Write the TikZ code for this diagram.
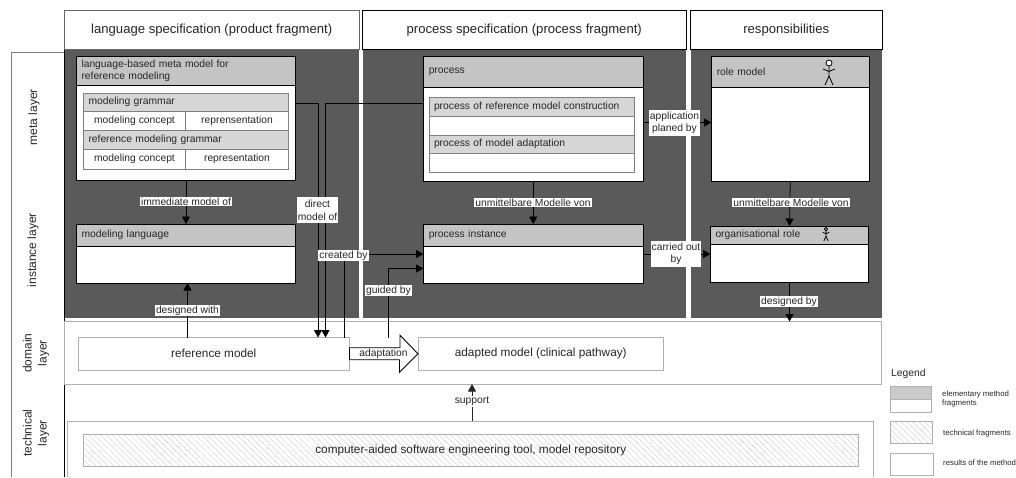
\documentclass[tikz,border=0pt]{standalone}
\usepackage{fontspec}
\setmainfont{Liberation Sans}
\usetikzlibrary{arrows.meta,calc,patterns.meta}
\definecolor{panel}{HTML}{5A5A5A}
\definecolor{headgray}{HTML}{C4C4C4}
\definecolor{subgray}{HTML}{D6D6D6}
\definecolor{rimgray}{HTML}{B0B0B0}
\definecolor{ink}{HTML}{262626}
\newcommand{\bx}[7][]{%
  \pgfmathsetmacro\bcx{(#3+#5)/2}\pgfmathsetmacro\bcy{(#4+#6)/2}%
  \pgfmathsetmacro\bw{abs(#5-#3)}\pgfmathsetmacro\bh{abs(#6-#4)}%
  \node[#1,minimum width=\bw pt,minimum height=\bh pt,inner sep=0pt,outer sep=0pt] (#2) at (\bcx,\bcy) {#7};}
\newcommand{\actor}[3]{% x, top y, scale
  \begin{scope}[shift={(#1,#2)},scale=#3,line width=.8pt,black]
    \draw[fill=white] (0,3) circle (3);
    \draw (0,6) -- (0,16) (-6,9) -- (0,11.5) -- (6,9) (-4,25) -- (0,16) -- (4,25);
  \end{scope}}
\tikzset{
  x=1pt,y=-1pt,
  font=\fontsize{10.3}{12}\selectfont,text=ink,
  conn/.style={draw=black,line width=.8pt,-{Triangle[width=8pt,length=7.5pt]}},
  panelbox/.style={fill=panel},
  header/.style={draw=black,line width=.8pt,fill=white,font=\fontsize{13.1}{15}\selectfont},
  headbar/.style={draw=black,line width=.9pt,fill=headgray,align=left,text width=#1,font=\fontsize{10.3}{12}\selectfont},
  headbar/.default=200pt,
  bodybox/.style={draw=black,line width=.9pt,fill=white},
  subhead/.style={draw=gray,line width=.7pt,fill=subgray,align=left,text width=#1},
  subhead/.default=195pt,
  cell/.style={draw=gray,line width=.7pt,fill=white},
  result/.style={draw=rimgray,line width=1pt,fill=white,font=\fontsize{11.8}{14}\selectfont},
  hatched/.style={draw=rimgray,line width=1pt,pattern={Lines[angle=-45,distance=4.2pt,line width=.35pt]},pattern color=gray!42},
  lbl/.style={fill=white,inner sep=1pt,outer sep=0pt,align=center,font=\fontsize{10.3}{12}\selectfont},
  layer/.style={rotate=90,align=center,font=\fontsize{12}{15}\selectfont},
  legtext/.style={anchor=west,align=left,inner sep=0pt,font=\fontsize{7.8}{9}\selectfont}
}
\begin{document}
\begin{tikzpicture}
\useasboundingbox (0,0) rectangle (1016,477);
% left column
\draw[draw=gray,line width=.8pt] (11,477) -- (11,52) -- (64,52);
\draw[black,line width=.8pt] (64,50) -- (64,477);
\node[layer] (lmeta) at (34,117) {meta layer};
\node[layer] (linst) at (33,250) {instance layer};
\node[layer] (ldom) at (36,353) {domain\\layer};
\node[layer] (ltech) at (36,433) {technical\\layer};
% panels
\bx[panelbox]{p1}{64.5}{50}{359}{318}{}
\bx[panelbox]{p2}{362.5}{50}{686}{318}{}
\bx[panelbox]{p3}{690.5}{50}{882}{318}{}
\bx[header,draw=gray!80!black]{h1}{64.5}{10.5}{359}{49.5}{language specification (product fragment)}
\bx[header]{h2}{362.5}{10.5}{686}{49.5}{process specification (process fragment)}
\bx[header]{h3}{690.5}{10.5}{882}{49.5}{responsibilities}
% language column
\bx[bodybox]{mmbody}{76.5}{85.5}{295.5}{180}{}
\bx[headbar=209pt]{mmhead}{76.5}{56}{295.5}{85.5}{language-based meta model for\\reference modeling}
\bx[subhead=195pt]{g1}{83.5}{93}{288.5}{111.5}{modeling grammar}
\bx[cell]{g1a}{83.5}{111.5}{185.5}{130}{modeling concept}
\bx[cell]{g1b}{185.5}{111.5}{288.5}{130}{reprensentation}
\bx[subhead=195pt]{g2}{83.5}{130}{288.5}{149}{reference modeling grammar}
\bx[cell]{g2a}{83.5}{149}{185.5}{169}{modeling concept}
\bx[cell]{g2b}{185.5}{149}{288.5}{169}{representation}
\bx[bodybox]{mlbody}{76.5}{246.5}{295.5}{283}{}
\bx[headbar=209pt]{mlhead}{76.5}{224}{295.5}{246.5}{modeling language}
% process column
\bx[bodybox]{prbody}{423.5}{87}{643}{181}{}
\bx[headbar=209pt]{prhead}{423.5}{56.5}{643}{87}{process}
\bx[subhead=195pt]{s1}{429}{97}{634}{116}{process of reference model construction}
\bx[cell]{s1b}{429}{116}{634}{135}{}
\bx[subhead=195pt]{s2}{429}{135}{634}{153.5}{process of model adaptation}
\bx[cell]{s2b}{429}{153.5}{634}{172.5}{}
\bx[bodybox]{pibody}{423.5}{246.5}{643}{283}{}
\bx[headbar=209pt]{pihead}{423.5}{224}{643}{246.5}{process instance}
% responsibilities column
\bx[bodybox]{rmbody}{711.5}{87}{869}{181}{}
\bx[headbar=147pt]{rmhead}{711.5}{56.5}{869}{87}{role model}
\bx[bodybox]{orbody}{710.5}{244.5}{868.5}{282}{}
\bx[headbar=148pt]{orhead}{710.5}{226}{868.5}{244.5}{organisational role}
\actor{829}{60}{1}
\actor{826}{227.5}{.54}
% domain and technical layers
\bx[draw=rimgray,line width=1pt,fill=white]{dom}{64.5}{321.5}{881}{384}{}
\bx[result]{refm}{78}{337.5}{349.5}{370}{reference model}
\bx[result]{adm}{418}{337.5}{663.5}{370}{adapted model (clinical pathway)}
\draw[draw=rimgray,line width=1pt] (67,477) -- (67,421) coordinate (t1) -- (873.5,421) coordinate (t2) -- (873.5,477);
\bx[hatched,font=\fontsize{11.8}{14}\selectfont]{tool}{83}{434}{858.5}{466.5}{computer-aided software engineering tool, model repository}
% connectors
\coordinate (c1) at (318,103);
\coordinate (c2) at (325.5,103);
\coordinate (c3) at (344,254);
\coordinate (c4) at (388.5,268.5);
\draw[conn] (mmbody.east |- c1) -- (c1) -- (c1 |- refm.north);
\draw[conn] (prbody.west |- c2) -- (c2) -- (c2 |- refm.north);
\draw[conn] (c3 |- refm.north) -- (c3) -- (pibody.west |- c3);
\draw[conn] (c4 |- refm.north) -- (c4) -- (pibody.west |- c4);
\draw[conn] (mmbody.south) -- (mlhead.north);
\draw[conn] (refm.north -| 187.5,0) -- (mlbody.south -| 187.5,0);
\draw[conn] (prbody.south) -- (pihead.north);
\draw[conn] (prbody.east |- 0,122.5) -- (rmbody.west |- 0,122.5);
\draw[conn] (pibody.east |- 0,254) -- (orbody.west |- 0,254);
\draw[conn] (rmbody.south) -- (orhead.north);
\draw[conn] (orbody.south) -- (orbody.south |- dom.north);
\draw[conn,draw=ink] (t1 -| 472,0) coordinate (sup0) -- (dom.south -| 472,0);
% block arrow
\draw[draw=black,line width=.9pt,fill=white,line join=miter]
  ($(refm.east)+(0,-6)$) -- ++(50.5,0) -- ++(0,-12.5) -- (adm.west) -- ++(-18.5,18.5) -- ++(0,-12.5) -- ($(refm.east)+(0,6)$) -- cycle;
\node[inner sep=0pt] (adl) at (383.5,353.5) {adaptation};
% connector labels
\node[lbl,font=\fontsize{10.3}{13}\selectfont,minimum width=41pt,minimum height=26pt,inner sep=0pt] (l2) at (317.5,210) {direct\\model of};
\node[lbl] (l1) at (186,201.5) {immediate model of};
\node[lbl] (l3) at (343.5,255.5) {created by};
\node[lbl] (l4) at (388.5,290.5) {guided by};
\node[lbl] (l5) at (187.5,310.5) {designed with};
\node[lbl] (l6) at (533,202.5) {unmittelbare Modelle von};
\node[lbl,minimum width=51pt,minimum height=26pt,inner sep=0pt] (l7) at (674.5,123) {application\\planed by};
\node[lbl,minimum width=50pt,minimum height=26pt,inner sep=0pt] (l8) at (676,254) {carried out\\by};
\node[lbl] (l9) at (791,202.5) {unmittelbare Modelle von};
\node[lbl] (l10) at (789,301.5) {designed by};
\node[lbl] (l11) at (472,401.5) {support};
% legend
\node[anchor=west,inner sep=0pt,font=\fontsize{10.3}{12}\selectfont] (leg) at (891,373.5) {Legend};
\bx[draw=rimgray,line width=.9pt,fill=white]{lg1b}{890.5}{399}{931.5}{412}{}
\bx[draw=rimgray,line width=.9pt,fill=headgray!90]{lg1a}{890.5}{386}{931.5}{399}{}
\bx[hatched]{lg2}{890.5}{421}{932}{443.5}{}
\bx[draw=rimgray,line width=.9pt,fill=white]{lg3}{890.5}{453}{933.5}{475}{}
\node[legtext] (lt1) at (942,399) {elementary method\\fragments};
\node[legtext] (lt2) at (943,433) {technical fragments};
\node[legtext] (lt3) at (943,463) {results of the method};
\end{tikzpicture}
\end{document}
